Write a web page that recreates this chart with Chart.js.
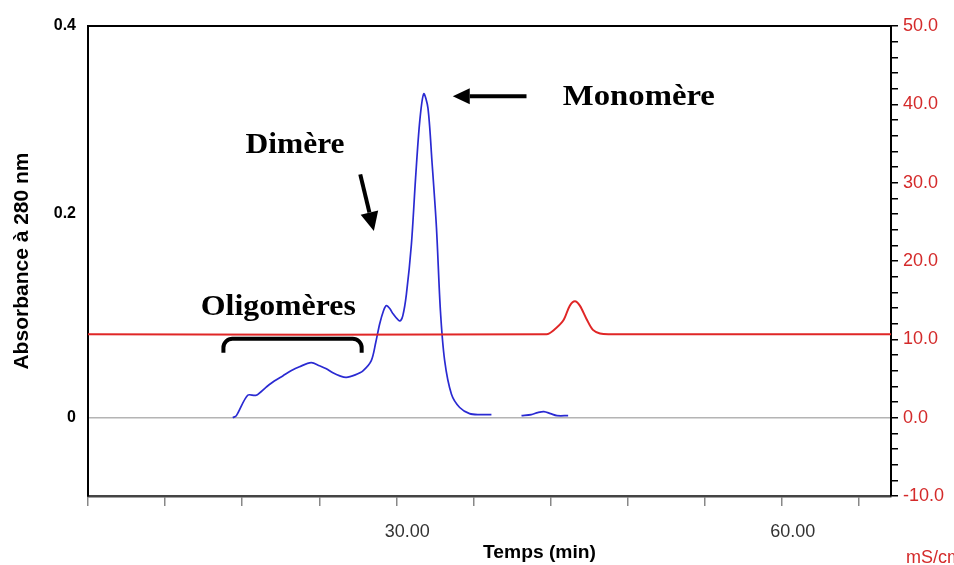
<!DOCTYPE html>
<html>
<head>
<meta charset="utf-8">
<script src="https://cdn.jsdelivr.net/npm/chart.js@4/dist/chart.umd.min.js"></script>
<style>
  body{margin:0;background:#fff;}
  canvas{display:block;}
</style>
</head>
<body>
<canvas id="chart" width="954" height="565"></canvas>
<script>
// A280 trace (blue), time in minutes / absorbance
const absTime  = [17.27,17.55,18.43,19.09,19.87,20.5,21.16,21.8,22.46,23.37,24.02,24.55,25.06,25.6,26.1,26.8,27.4,28.05,28.4,28.7,29.0,29.22,29.5,29.74,30.26,30.5,30.78,31.17,31.5,31.82,32.13,32.46,32.77,33.12,33.43,33.76,34.29,34.93,35.7,36.5,37.4,38.5,39.74,40.5,41.0,41.48,42.0,42.5,43.37];
const absValue = [0,0.002,0.022,0.022,0.03,0.036,0.041,0.046,0.05,0.054,0.051,0.048,0.044,0.041,0.0395,0.042,0.046,0.056,0.074,0.092,0.105,0.11,0.107,0.102,0.095,0.1,0.121,0.17,0.236,0.291,0.318,0.304,0.252,0.187,0.105,0.056,0.023,0.01,0.004,0.003,0.003,null,0.002,0.003,0.005,0.006,0.004,0.002,0.002];

// conductivity trace (red), mS/cm
const condTime  = [6,41.7,42.2,42.99,43.5,43.9,44.28,44.8,45.3,45.85,46.5,68.5];
const condValue = [10.65,10.65,11.1,12.4,14.3,14.85,14.3,12.6,11.2,10.75,10.65,10.65];

const leftTicks  = [0, 0.2, 0.4];
const leftLabels = ['0', '0.2', '0.4'];
const xLabelled  = [30, 60];

// text notes on the plot: time, absorbance, width in px
const notes = [
  {text:'Monomère',   t:42.96, a:0.307, w:152},
  {text:'Dimère',     t:18.26, a:0.26,  w:99},
  {text:'Oligomères', t:14.78, a:0.1007, w:155}
];

const SANS = "'Liberation Sans', Arial, sans-serif";
const SERIF = "'Liberation Serif', 'Times New Roman', serif";

function fitText(ctx, text, x, y, w){
  const m = ctx.measureText(text).width;
  ctx.save();
  ctx.translate(x, y);
  ctx.scale(w/m, 1);
  ctx.fillText(text, 0, 0);
  ctx.restore();
}

function arrow(ctx, x1, y1, x2, y2, head, half){
  const ang = Math.atan2(y2-y1, x2-x1);
  const bx = x2 - head*Math.cos(ang), by = y2 - head*Math.sin(ang);
  ctx.beginPath();
  ctx.moveTo(x1, y1); ctx.lineTo(bx, by);
  ctx.stroke();
  ctx.beginPath();
  ctx.moveTo(x2, y2);
  ctx.lineTo(bx + half*Math.sin(ang), by - half*Math.cos(ang));
  ctx.lineTo(bx - half*Math.sin(ang), by + half*Math.cos(ang));
  ctx.closePath();
  ctx.fill();
}

const extras = {
  id:'extras',
  afterDraw(chart){
    const ctx = chart.ctx, ca = chart.chartArea;
    const x = chart.scales.x, y = chart.scales.yA;
    ctx.save();
    // top frame
    ctx.strokeStyle = '#000'; ctx.lineWidth = 2;
    ctx.beginPath(); ctx.moveTo(ca.left-1, ca.top); ctx.lineTo(ca.right+1, ca.top); ctx.stroke();

    ctx.fillStyle = '#000';
    ctx.textBaseline = 'alphabetic';
    ctx.font = 'bold 30px ' + SERIF;
    notes.forEach(n => fitText(ctx, n.text, x.getPixelForValue(n.t), y.getPixelForValue(n.a), n.w));

    ctx.strokeStyle = '#000'; ctx.lineWidth = 4; ctx.lineCap = 'butt';
    // monomer arrow
    arrow(ctx, x.getPixelForValue(40.13), y.getPixelForValue(0.3157), x.getPixelForValue(34.39), y.getPixelForValue(0.3157), 17, 8);
    // dimer arrow
    arrow(ctx, x.getPixelForValue(27.19), y.getPixelForValue(0.2389), x.getPixelForValue(28.25), y.getPixelForValue(0.1833), 19, 9);

    // oligomer bracket
    const l = x.getPixelForValue(16.54), r = x.getPixelForValue(27.3);
    const top = y.getPixelForValue(0.0775), bot = y.getPixelForValue(0.0637);
    ctx.lineWidth = 4;
    ctx.beginPath();
    ctx.moveTo(l, bot);
    ctx.arcTo(l, top, l+10, top, 9);
    ctx.lineTo(r-10, top);
    ctx.arcTo(r, top, r, bot, 9);
    ctx.lineTo(r, bot);
    ctx.stroke();

    // x title
    ctx.font = 'bold 18px ' + SANS;
    fitText(ctx, 'Temps (min)', 483, 558, 113);
    // right unit
    ctx.fillStyle = '#d42a2a';
    ctx.font = '18px ' + SANS;
    ctx.fillText('mS/cm', 906, 563);
    ctx.restore();
  }
};

new Chart(document.getElementById('chart'), {
  type:'line',
  data:{
    datasets:[
      {
        label:'Conductivité',
        data: condTime.map((t,i)=>({x:t, y:condValue[i]})),
        yAxisID:'yC',
        borderColor:'#e02626',
        borderWidth:2,
        pointRadius:0,
        tension:0.3
      },
      {
        label:'A280',
        data: absTime.map((t,i)=>({x:t, y:absValue[i]})),
        yAxisID:'yA',
        borderColor:'#2a2ad2',
        borderWidth:1.7,
        pointRadius:0,
        tension:0.3
      }
    ]
  },
  options:{
    responsive:false,
    animation:false,
    devicePixelRatio:1,
    layout:{padding:{top:26, left:0, right:0, bottom:0}},
    plugins:{legend:{display:false}, tooltip:{enabled:false}},
    scales:{
      x:{
        type:'linear', min:6, max:68.5,
        afterFit(s){ s.height = 69; },
        border:{color:'#444', width:2.5},
        grid:{drawOnChartArea:false, drawTicks:true, tickLength:10, color:'#888', lineWidth:1.5},
        ticks:{
          stepSize:6, includeBounds:false, autoSkip:false, maxRotation:0,
          labelOffset:11, padding:15, color:'#333',
          font:{family:SANS, size:18},
          callback:v => xLabelled.includes(v) ? v.toFixed(2) : ''
        }
      },
      yA:{
        type:'linear', position:'left', min:-10/130, max:50/130,
        afterFit(s){ s.width = 88; },
        afterBuildTicks(s){ s.ticks = leftTicks.map(v => ({value: Math.min(v, s.max)})); },
        border:{color:'#000', width:2},
        grid:{drawTicks:false, color:c => (c.tick && c.tick.value === 0) ? '#b4b4b4' : 'rgba(0,0,0,0)', lineWidth:1.5},
        ticks:{
          padding:12, color:'#000', autoSkip:false,
          font:{family:SANS, size:16, weight:'bold'},
          callback:(v,i) => leftLabels[i]
        },
        title:{display:true, text:'Absorbance à 280 nm', color:'#000', padding:{top:10, bottom:0},
               font:{family:SANS, size:21, weight:'bold'}}
      },
      yC:{
        type:'linear', position:'right', min:-10, max:50,
        afterFit(s){ s.width = 63; },
        border:{color:'#000', width:2},
        grid:{drawOnChartArea:false, drawTicks:true, tickLength:7, color:'#000', lineWidth:1.5},
        ticks:{
          stepSize:2, autoSkip:false, padding:5, color:'#d42a2a',
          font:{family:SANS, size:18},
          callback:v => v % 10 === 0 ? v.toFixed(1) : ''
        }
      }
    }
  },
  plugins:[extras]
});
</script>
</body>
</html>
